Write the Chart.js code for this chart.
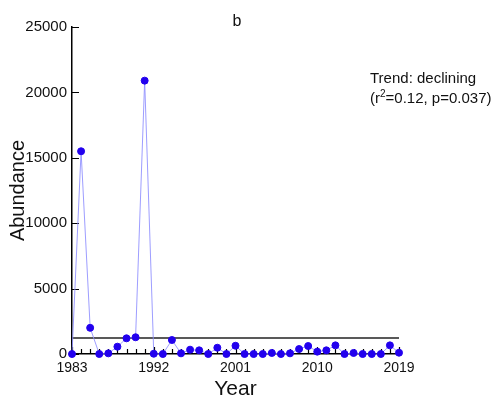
<!DOCTYPE html>
<html>
<head>
<meta charset="utf-8">
<script src="https://cdn.jsdelivr.net/npm/chart.js@4"></script>
<style>
  html, body { margin: 0; padding: 0; background: #fff; }
  #wrap { width: 498px; height: 398px; }
</style>
</head>
<body>
<div id="wrap"><canvas id="c"></canvas></div>
<script>
// Survey years and abundance
const years = [1983, 1984, 1985, 1986, 1987, 1988, 1989, 1990, 1991, 1992,
               1993, 1994, 1995, 1996, 1997, 1998, 1999, 2000, 2001, 2002,
               2003, 2004, 2005, 2006, 2007, 2008, 2009, 2010, 2011, 2012,
               2013, 2014, 2015, 2016, 2017, 2018, 2019];
const abundance = [0, 15500, 2000, 0, 50, 560, 1200, 1280, 20900, 20,
                   0, 1070, 50, 330, 280, 0, 480, 0, 630, 0,
                   0, 0, 80, 0, 50, 380, 610, 180, 280, 660,
                   0, 80, 0, 0, 0, 660, 100];
const meanLevel = 1230;          // black horizontal reference line
const labelYears = [1983, 1992, 2001, 2010, 2019];
const yTicks = [0, 5000, 10000, 15000, 20000, 25000];

const FONT = '"Liberation Sans", Arial, sans-serif';

// inward tick marks + panel letter + trend text
const decor = {
    id: 'decor',
    beforeDatasetsDraw(chart) {
        const ctx = chart.ctx;
        const xs = chart.scales.x, ys = chart.scales.y;
        ctx.save();
        ctx.strokeStyle = '#000';
        ctx.lineWidth = 1.2;
        ctx.beginPath();
        xs.ticks.forEach(t => {
            const px = Math.round(xs.getPixelForValue(t.value)) + 0.5;
            const len = labelYears.includes(t.value) ? 7 : 5;
            ctx.moveTo(px, ys.bottom);
            ctx.lineTo(px, ys.bottom - len);
        });
        yTicks.forEach(v => {
            const py = Math.round(ys.getPixelForValue(v)) + 0.5;
            ctx.moveTo(xs.left, py);
            ctx.lineTo(xs.left + 7, py);
        });
        ctx.stroke();
        ctx.restore();
    },
    afterDraw(chart) {
        const ctx = chart.ctx;
        ctx.save();
        ctx.fillStyle = '#111';
        ctx.textBaseline = 'alphabetic';
        ctx.font = '16px ' + FONT;
        ctx.textAlign = 'center';
        ctx.fillText('b', 237, 26);

        ctx.textAlign = 'left';
        ctx.font = '15px ' + FONT;
        ctx.fillText('Trend: declining', 370, 83);
        let x = 370;
        const y2 = 103;
        const parts = [['(r', 15, 0], ['2', 10, -6], ['=0.12, p=0.037)', 15, 0]];
        parts.forEach(([s, size, dy]) => {
            ctx.font = size + 'px ' + FONT;
            ctx.fillText(s, x, y2 + dy);
            x += ctx.measureText(s).width;
        });
        ctx.restore();
    }
};

new Chart(document.getElementById('c'), {
    type: 'line',
    data: {
        datasets: [{
            data: years.map((yr, i) => ({ x: yr, y: abundance[i] })),
            borderColor: 'rgba(140, 140, 255, 0.85)',
            borderWidth: 1,
            pointRadius: 3.5,
            pointBackgroundColor: '#2200ee',
            pointBorderColor: '#2200ee',
            tension: 0,
            clip: false,
            order: 1
        }, {
            data: [{ x: years[0], y: meanLevel }, { x: years[years.length - 1], y: meanLevel }],
            borderColor: '#222',
            borderWidth: 1.5,
            pointRadius: 0,
            order: 2
        }]
    },
    options: {
        responsive: true,
        maintainAspectRatio: false,
        animation: false,
        layout: { padding: { left: 0, right: 99, top: 27, bottom: 0 } },
        plugins: { legend: { display: false }, tooltip: { enabled: false } },
        scales: {
            x: {
                type: 'linear',
                min: 1983,
                max: 2019,
                afterFit: s => { s.height = 44; },
                border: { display: true, color: '#000', width: 1.5 },
                grid: { display: true, drawOnChartArea: false, drawTicks: false },
                ticks: {
                    stepSize: 1,
                    autoSkip: false,
                    maxRotation: 0,
                    padding: 6,
                    color: '#111',
                    font: { family: FONT, size: 14 },
                    callback: v => labelYears.includes(v) ? String(v) : ''
                },
                title: {
                    display: true,
                    text: 'Year',
                    color: '#111',
                    font: { family: FONT, size: 21, lineHeight: 0.8 },
                    padding: { top: 0, bottom: 0 }
                }
            },
            y: {
                min: 0,
                max: 25000,
                afterFit: s => { s.width = 72; },
                border: { display: true, color: '#000', width: 1.5 },
                grid: { display: true, drawOnChartArea: false, drawTicks: false },
                ticks: {
                    stepSize: 5000,
                    padding: 5,
                    color: '#111',
                    font: { family: FONT, size: 15 },
                    callback: v => String(v)
                },
                title: {
                    display: true,
                    text: 'Abundance',
                    color: '#111',
                    font: { family: FONT, size: 20 },
                    padding: { top: 6, bottom: 0 }
                }
            }
        }
    },
    plugins: [decor]
});
</script>
</body>
</html>
